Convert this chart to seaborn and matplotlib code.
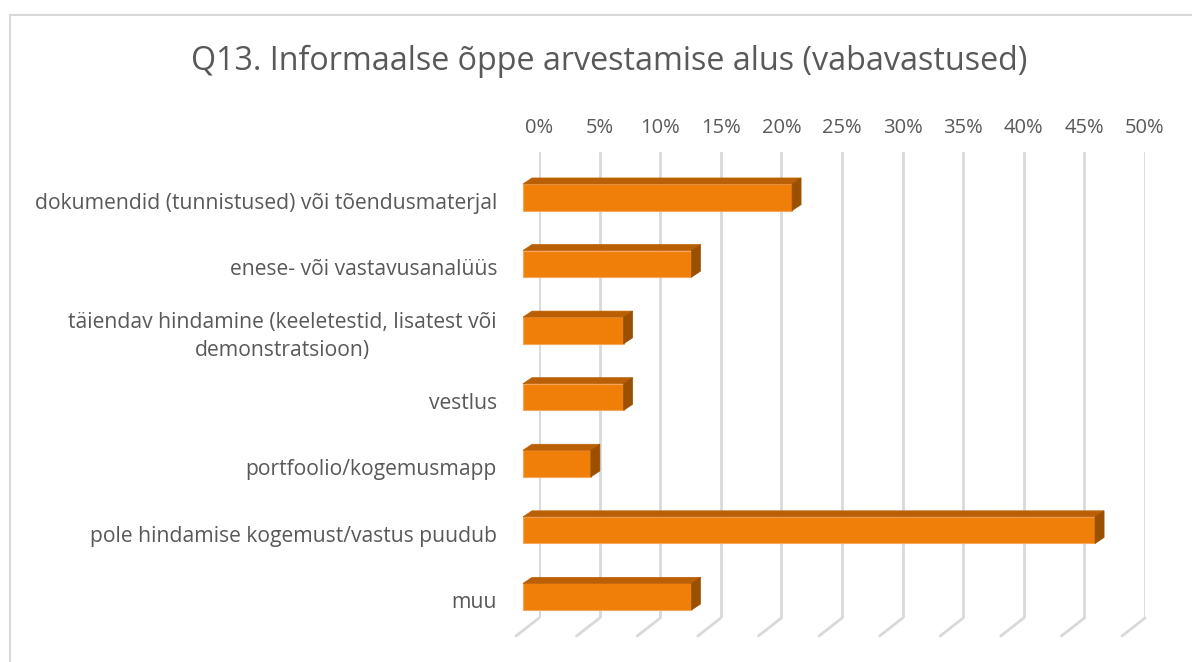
import numpy as np
import pandas as pd
import seaborn as sns
import matplotlib
matplotlib.use("Agg")
import matplotlib.pyplot as plt
from matplotlib.transforms import ScaledTranslation, IdentityTransform
from matplotlib.patches import Polygon
from matplotlib.lines import Line2D

categories = [
    "dokumendid (tunnistused) või tõendusmaterjal",
    "enese- või vastavusanalüüs",
    "täiendav hindamine (keeletestid, lisatest või\ndemonstratsioon)",
    "vestlus",
    "portfoolio/kogemusmapp",
    "pole hindamise kogemust/vastus puudub",
    "muu",
]
values = [22.2, 13.9, 8.3, 8.3, 5.6, 47.2, 13.9]
tick_values = [0, 5, 10, 15, 20, 25, 30, 35, 40, 45, 50]
tick_labels = [f"{t}%" for t in tick_values]
title = "Q13. Informaalse õppe arvestamise alus (vabavastused)"

FRONT = "#F07F09"
TOP = "#BA5F04"
SIDE = "#9B5000"
EDGE = "#F6A65C"
GRID = "#D9D9D9"
TEXT = "#595959"

sns.set_style("white")
plt.rcParams["font.family"] = ["Open Sans", "DejaVu Sans"]

W, H, DPI = 1192, 662, 100
fig = plt.figure(figsize=(W / DPI, H / DPI), dpi=DPI)

# back plane of the 3D plot, in pixels
left_px, right_px, top_px, bottom_px = 539, 1145, 152, 618
ax = fig.add_axes([left_px / W, 1 - bottom_px / H,
                   (right_px - left_px) / W, (bottom_px - top_px) / H])

df = pd.DataFrame({"cat": categories, "val": values})
sns.barplot(data=df, x="val", y="cat", orient="h", width=0.4, color=FRONT,
            saturation=1, ax=ax, zorder=3)

ax.set_xlim(0, 50)
ax.set_ylim(len(categories) - 0.5, -0.5)
ax.set_xticks(tick_values)
ax.set_xticklabels(tick_labels)
ax.xaxis.tick_top()
ax.tick_params(axis="x", length=0, pad=10, labelsize=14.5, colors=TEXT)
ax.set_yticks([])
ax.set_xlabel("")
ax.set_ylabel("")
for s in ax.spines.values():
    s.set_visible(False)
ax.grid(axis="x", color=GRID, lw=2, zorder=0)
ax.set_axisbelow(True)

# front-face offset (display pixels) and depth of bar
fx, fy = -16 / DPI, -12 / DPI
off = ScaledTranslation(fx, fy, fig.dpi_scale_trans)
dx, dy = 9, 6  # bar depth in pixels

fig.canvas.draw()
for p in ax.patches:
    p.set_transform(ax.transData + off)
    p.set_clip_on(False)
    p.set_edgecolor(EDGE)
    p.set_linewidth(0.8)
    x0, y0 = p.get_x(), p.get_y()
    w, h = p.get_width(), p.get_height()
    (L, B) = (ax.transData + off).transform((x0, y0 + h))
    (R, T) = (ax.transData + off).transform((x0 + w, y0))
    top = Polygon([(L, T), (R, T), (R + dx, T + dy), (L + dx, T + dy)],
                  closed=True, facecolor=TOP, edgecolor=TOP, lw=0.5,
                  transform=IdentityTransform(), zorder=2.9)
    side = Polygon([(R, B), (R, T), (R + dx, T + dy), (R + dx, B + dy)],
                   closed=True, facecolor=SIDE, edgecolor=SIDE, lw=0.5,
                   transform=IdentityTransform(), zorder=2.9)
    fig.add_artist(top)
    fig.add_artist(side)

# floor diagonals
for t in tick_values:
    px, py = ax.transData.transform((t, len(categories) - 0.5))
    fig.add_artist(Line2D([px, px - 23], [py, py - 18], color=GRID, lw=2,
                          transform=IdentityTransform(), zorder=0.5))

# category labels, aligned with bar front faces
lab_tr = ax.get_yaxis_transform() + ScaledTranslation(-42 / DPI, -18 / DPI, fig.dpi_scale_trans)
for i, c in enumerate(categories):
    ax.text(0, i, c, transform=lab_tr, ha="right", va="center",
            multialignment="center", fontsize=15.2, color=TEXT,
            linespacing=1.45)

fig.text(609 / W, 1 - 61 / H, title, ha="center", va="center",
         fontsize=23.2, color=TEXT)

# chart border (left and top visible)
fig.add_artist(Line2D([10, 10], [0, H - 15], color=GRID, lw=1.5,
                      transform=IdentityTransform()))
fig.add_artist(Line2D([10, W], [H - 15, H - 15], color=GRID, lw=1.5,
                      transform=IdentityTransform()))

fig.savefig("out.png", dpi=DPI)
